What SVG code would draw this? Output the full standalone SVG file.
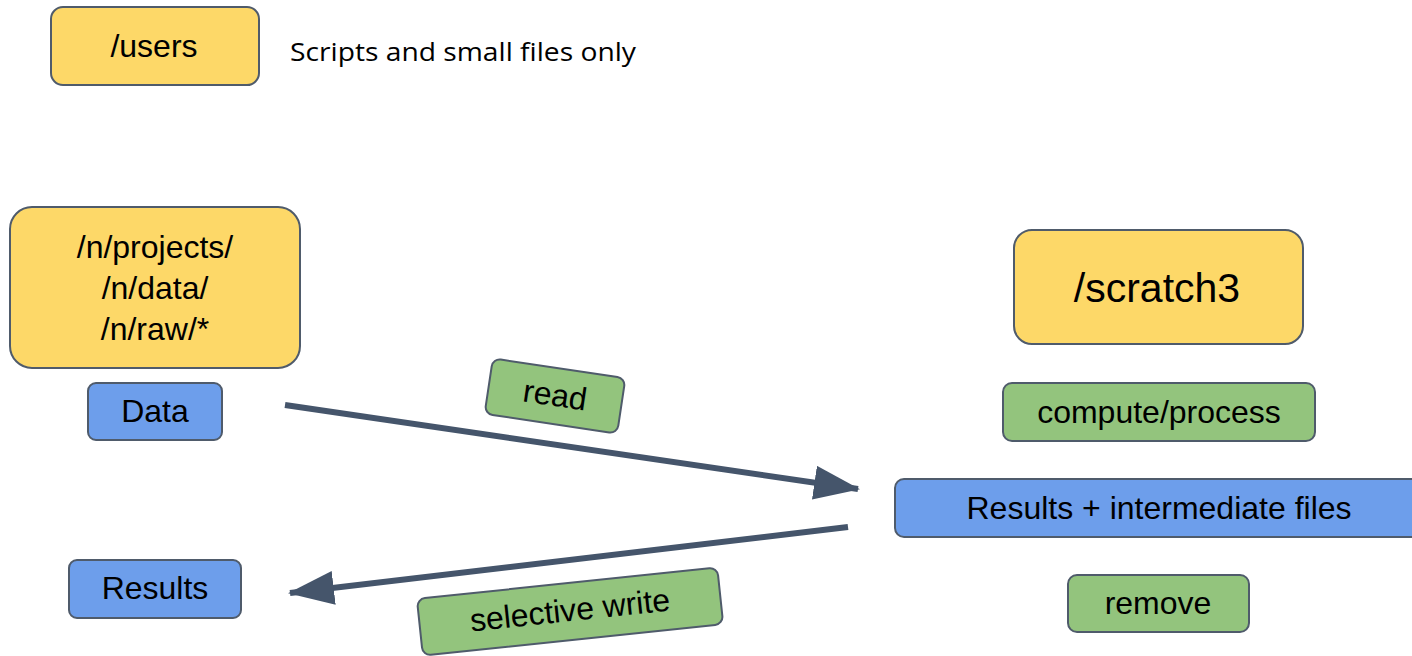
<svg xmlns="http://www.w3.org/2000/svg" width="1412" height="656" viewBox="0 0 1412 656">
<defs>
<style>
.box{stroke:#4f5b6b;stroke-width:2}
.y{fill:#fdd868}
.b{fill:#6d9eeb}
.g{fill:#93c47d}
.t{font-family:"Liberation Sans",Arial,sans-serif;fill:#000;text-anchor:middle;dominant-baseline:central;font-size:32px}
.conn{stroke:#45556b;stroke-width:6;fill:none}
</style>
<marker id="ah" markerUnits="userSpaceOnUse" markerWidth="48" markerHeight="36" refX="44" refY="17" orient="auto">
<path d="M0,0 L46,17 L0,34 Z" fill="#45556b"/>
</marker>
</defs>
<rect width="1412" height="656" fill="#fff"/>
<g id="users">
<rect class="box y" x="51" y="7" width="208" height="78" rx="12"/>
<text class="t" x="154" y="46">/users</text>
</g>
<g id="note">
<text x="290" y="61" font-family="'Open Sans',sans-serif" font-size="26" fill="#000" textLength="346" lengthAdjust="spacingAndGlyphs">Scripts and small files only</text>
</g>
<g id="projects">
<rect class="box y" x="10" y="207" width="290" height="161" rx="22"/>
<text class="t" x="155" y="247">/n/projects/</text>
<text class="t" x="155" y="288">/n/data/</text>
<text class="t" x="155" y="329">/n/raw/*</text>
</g>
<g id="data">
<rect class="box b" x="88" y="383" width="134" height="57" rx="8"/>
<text class="t" x="155" y="411">Data</text>
</g>
<g id="results">
<rect class="box b" x="69" y="560" width="172" height="58" rx="8"/>
<text class="t" x="155" y="588">Results</text>
</g>
<g id="scratch3">
<rect class="box y" x="1014" y="230" width="289" height="114" rx="18"/>
<text class="t" x="1157" y="288" style="font-size:41px">/scratch3</text>
</g>
<g id="compute">
<rect class="box g" x="1003" y="383" width="312" height="58" rx="9"/>
<text class="t" x="1159" y="412">compute/process</text>
</g>
<g id="intermediate">
<rect class="box b" x="895" y="479" width="530" height="58" rx="9"/>
<text class="t" x="1159" y="508">Results + intermediate files</text>
</g>
<g id="remove">
<rect class="box g" x="1068" y="575" width="181" height="57" rx="9"/>
<text class="t" x="1158" y="603">remove</text>
</g>
<g id="connectors">
<line class="conn" x1="285" y1="405" x2="858" y2="489" marker-end="url(#ah)"/>
<line class="conn" x1="848" y1="527" x2="290" y2="593" marker-end="url(#ah)"/>
</g>
<g id="read-label" transform="translate(555,396) rotate(8.5)">
<rect class="box g" x="-67" y="-28" width="134" height="56" rx="8"/>
<text class="t" x="0" y="-1">read</text>
</g>
<g id="write-label" transform="translate(570,611) rotate(-6)">
<rect class="box g" x="-151" y="-28" width="302" height="57" rx="8"/>
<text class="t" x="0" y="-1">selective write</text>
</g>
</svg>
